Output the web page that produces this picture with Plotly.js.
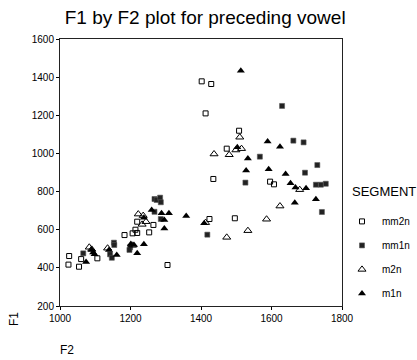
<!DOCTYPE html>
<html>
<head>
<meta charset="utf-8">
<script src="https://cdn.plot.ly/plotly-3.0.1.min.js"></script>
<style>html,body{margin:0;padding:0;background:#fff;}#chart{width:417px;height:360px;}</style>
</head>
<body>
<div id="chart"></div>
<script>
// Series data (F2 on x, F1 on y)
const mm2n_F2 = [1026, 1024, 1054, 1060, 1106, 1183, 1206, 1214, 1219, 1219, 1253, 1265, 1305, 1402, 1429, 1413, 1508, 1473, 1435, 1424, 1496, 1596, 1607];
const mm2n_F1 = [462, 417, 406, 446, 450, 572, 581, 600, 583, 642, 586, 625, 415, 1378, 1364, 1210, 1119, 1025, 866, 656, 660, 852, 838];

const mm1n_F2 = [1066, 1142, 1147, 1153, 1154, 1199, 1197, 1268, 1268, 1274, 1284, 1286, 1286, 1630, 1662, 1691, 1567, 1526, 1418, 1695, 1730, 1726, 1740, 1754, 1743];
const mm1n_F1 = [476, 471, 453, 532, 520, 508, 494, 694, 761, 756, 768, 744, 656, 1249, 1067, 1058, 983, 847, 574, 899, 939, 836, 836, 841, 693];

const m2n_F2 = [1083, 1090, 1135, 1206, 1222, 1236, 1233, 1244, 1510, 1437, 1480, 1499, 1515, 1413, 1473, 1533, 1586, 1624, 1680];
const m2n_F1 = [508, 497, 503, 518, 682, 674, 628, 642, 1085, 997, 993, 1018, 1025, 637, 560, 595, 655, 724, 810];

const m1n_F2 = [1074, 1090, 1094, 1098, 1139, 1161, 1201, 1210, 1219, 1238, 1238, 1260, 1288, 1296, 1309, 1296, 1358, 1409, 1513, 1589, 1624, 1503, 1533, 1528, 1592, 1640, 1654, 1668, 1698, 1726, 1666];
const m1n_F1 = [431, 495, 481, 471, 494, 467, 525, 520, 476, 524, 663, 703, 686, 651, 686, 607, 672, 634, 1434, 1062, 1035, 1032, 974, 910, 917, 892, 843, 822, 817, 760, 742];

const segments = ["mm2n", "mm1n", "m2n", "m1n"];
const xTicks = [1000, 1200, 1400, 1600, 1800];
const yTicks = [200, 400, 600, 800, 1000, 1200, 1400, 1600];

const FONT = "Liberation Sans, Arial, Helvetica, sans-serif";

const traces = [
  {x: mm2n_F2, y: mm2n_F1, name: segments[0], legendgroup: "a",
   marker: {symbol: "square-open", size: 5, color: "#000", line: {width: 1, color: "#000"}}},
  {x: mm1n_F2, y: mm1n_F1, name: segments[1], legendgroup: "b",
   marker: {symbol: "square", size: 5, color: "#222", line: {width: 0.6, color: "#555"}}},
  {x: m2n_F2, y: m2n_F1, name: segments[2], legendgroup: "c",
   marker: {symbol: "triangle-up-open", size: 7, color: "#000", line: {width: 1, color: "#000"}}},
  {x: m1n_F2, y: m1n_F1, name: segments[3], legendgroup: "d",
   marker: {symbol: "triangle-up", size: 7, color: "#000", line: {width: 0}}}
].map(t => Object.assign({type: "scatter", mode: "markers", hoverinfo: "x+y"}, t));

const layout = {
  width: 417, height: 360,
  margin: {l: 60, r: 75, t: 39, b: 54, pad: 0, autoexpand: false},
  paper_bgcolor: "#fff", plot_bgcolor: "#fff",
  font: {family: FONT, size: 10, color: "#000"},
  title: {text: "F1 by F2 plot for preceding vowel", font: {family: FONT, size: 19, color: "#000"},
          x: 0.492, xref: "container", xanchor: "center", y: 0.952, yref: "container", yanchor: "middle",
          automargin: false},
  xaxis: {range: [1000, 1800], tickvals: xTicks, ticktext: xTicks.map(String), showgrid: false, zeroline: false,
          showline: true, linecolor: "#222", linewidth: 1, mirror: true, automargin: false,
          ticks: "outside", ticklen: 3, tickcolor: "#000", tickfont: {size: 10}},
  yaxis: {range: [200, 1600], tickvals: yTicks, ticktext: yTicks.map(String), showgrid: false, zeroline: false,
          showline: true, linecolor: "#222", linewidth: 1, mirror: true, automargin: false,
          ticks: "outside", ticklen: 3, tickcolor: "#000", tickfont: {size: 10}},
  showlegend: true,
  legend: {x: 1.0, xanchor: "left", y: 0.182, yanchor: "middle", traceorder: "grouped", tracegroupgap: 5,
           font: {size: 10}, bgcolor: "rgba(0,0,0,0)", itemwidth: 30},
  annotations: [
    {text: "SEGMENT", xref: "paper", yref: "paper", x: 1.028, y: 0.427, showarrow: false,
     font: {size: 13}, xanchor: "left", yanchor: "middle"},
    {text: "F1", xref: "paper", yref: "paper", x: -0.163, y: -0.049, showarrow: false, textangle: -90,
     font: {size: 12}, xanchor: "center", yanchor: "middle"},
    {text: "F2", xref: "paper", yref: "paper", x: 0.025, y: -0.165, showarrow: false,
     font: {size: 12}, xanchor: "center", yanchor: "middle"}
  ]
};

Plotly.newPlot("chart", traces, layout, {displayModeBar: false, staticPlot: true});
</script>
</body>
</html>
